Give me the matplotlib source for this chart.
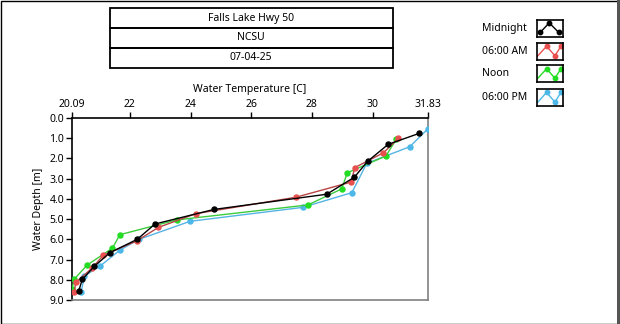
import matplotlib.pyplot as plt
from matplotlib.patches import Rectangle

plt.rcParams['font.family'] = ['Noto Sans', 'DejaVu Sans']

W, H = 620, 324

title_lines = ['Falls Lake Hwy 50', 'NCSU', '07-04-25']
series_names = ['Midnight', '06:00 AM', 'Noon', '06:00 PM']
series_colors = ['#000000', '#e8504f', '#22dd22', '#4db8e8']
line_colors = ['#000000', '#b84444', '#3ccc3c', '#55b4e4']

# temperature [C] / depth [m] profiles
midnight_temp = [31.54, 30.52, 29.84, 29.40, 28.49, 24.78, 22.83, 22.24, 21.34, 20.83, 20.43, 20.31]
midnight_depth = [0.76, 1.30, 2.14, 2.93, 3.77, 4.52, 5.24, 6.00, 6.66, 7.33, 7.98, 8.56]
am_temp = [30.85, 30.36, 29.42, 29.29, 27.47, 24.17, 22.94, 22.22, 21.12, 20.75, 20.21, 20.17]
am_depth = [1.01, 1.72, 2.45, 3.17, 3.92, 4.73, 5.41, 6.08, 6.79, 7.43, 8.13, 8.62]
noon_temp = [30.79, 30.44, 29.17, 28.98, 27.87, 23.54, 21.67, 21.42, 20.59, 20.17, 20.09]
noon_depth = [1.04, 1.88, 2.71, 3.51, 4.30, 5.04, 5.77, 6.44, 7.27, 7.96, 8.45]
pm_temp = [31.83, 31.23, 29.81, 29.32, 27.70, 23.98, 22.30, 21.67, 21.02, 20.50, 20.39]
pm_depth = [0.53, 1.42, 2.24, 3.69, 4.42, 5.11, 6.00, 6.53, 7.32, 7.81, 8.62]

x_ticks = [20.09, 22, 24, 26, 28, 30, 31.83]
x_tick_labels = ['20.09', '22', '24', '26', '28', '30', '31.83']
y_ticks = [0, 1, 2, 3, 4, 5, 6, 7, 8, 9]
y_tick_labels = ['%.1f' % v for v in y_ticks]


def px_box(x0, y0, x1, y1):
    """Pixel box (top-left origin) -> figure rect."""
    return [x0 / W, 1 - y1 / H, (x1 - x0) / W, (y1 - y0) / H]


fig = plt.figure(figsize=(W / 100, H / 100), dpi=100)

# outer frame
fig.patches.append(Rectangle((0.5 / W, 0.5 / H), 1 - 1.0 / W, 1 - 1.0 / H,
                             transform=fig.transFigure, fill=False,
                             edgecolor='#000000', linewidth=1.0))
fig.patches.append(Rectangle((1 - 3 / W, 0), 2.5 / W, 1, transform=fig.transFigure,
                             facecolor='#555555', edgecolor='none'))

# stacked title boxes
box_rows = [(8.5, 27.5), (27.5, 48), (48, 67.5)]
for text, (y0, y1) in zip(title_lines, box_rows):
    fig.patches.append(Rectangle((109.5 / W, 1 - y1 / H), 283 / W, (y1 - y0) / H,
                                 transform=fig.transFigure, fill=False,
                                 edgecolor='#000000', linewidth=1.3))
    fig.text(251 / W, 1 - (y0 + y1) / 2 / H, text, ha='center', va='center',
             fontsize=7.5)

# main plot
ax = fig.add_axes(px_box(72, 118, 428, 300))
profiles = [(midnight_temp, midnight_depth), (am_temp, am_depth),
            (noon_temp, noon_depth), (pm_temp, pm_depth)]
for i in [3, 2, 1, 0]:
    t, d = profiles[i]
    ax.plot(t, d, color=line_colors[i], linewidth=1.0, marker='o', markersize=3.6,
            markerfacecolor=series_colors[i], markeredgecolor=series_colors[i],
            zorder=3 + (3 - i))

ax.set_xlim(20.09, 31.83)
ax.set_ylim(9.0, 0.0)
ax.xaxis.tick_top()
ax.xaxis.set_label_position('top')
ax.set_xticks(x_ticks)
ax.set_xticklabels(x_tick_labels)
ax.set_yticks(y_ticks)
ax.set_yticklabels(y_tick_labels)
ax.tick_params(axis='both', labelsize=7.5, length=4, width=1.0, pad=1.5,
               direction='out')
ax.set_xlabel('Water Temperature [C]', fontsize=7.5, labelpad=5)
ax.set_ylabel('Water Depth [m]', fontsize=7.5, labelpad=4)
for side in ['top', 'left']:
    ax.spines[side].set_color('#000000')
    ax.spines[side].set_linewidth(1.2)
for side in ['bottom', 'right']:
    ax.spines[side].set_color('#808080')
    ax.spines[side].set_linewidth(1.2)

# legend: label + small swatch per series
swatch_rows = [(19.5, 36.5), (42.5, 59.5), (65, 82), (88.5, 106)]
swatch_x = [[0.13, 0.47, 0.83], [0.02, 0.37, 0.69, 0.92],
            [0.02, 0.37, 0.69, 0.92], [0.02, 0.37, 0.69, 0.92]]
swatch_y = [[0.25, 0.8, 0.25], [0.2, 0.78, 0.22, 0.78],
            [0.2, 0.78, 0.22, 0.78], [0.2, 0.78, 0.22, 0.78]]
for i, (y0, y1) in enumerate(swatch_rows):
    fig.text(482 / W, 1 - (y0 + y1) / 2 / H, series_names[i], ha='left',
             va='center', fontsize=7.5)
    sa = fig.add_axes(px_box(537, y0, 563, y1))
    sa.set_xlim(0, 1)
    sa.set_ylim(0, 1)
    sa.set_xticks([])
    sa.set_yticks([])
    for sp in sa.spines.values():
        sp.set_linewidth(1.2)
        sp.set_color('#000000')
    mk = [0, 1, 2] if i == 0 else [1, 2, 3]
    sa.plot(swatch_x[i], swatch_y[i], color=series_colors[i], linewidth=1.0,
            marker='o', markersize=3.2, markevery=mk, clip_on=True)

fig.savefig('out.png', dpi=100)
